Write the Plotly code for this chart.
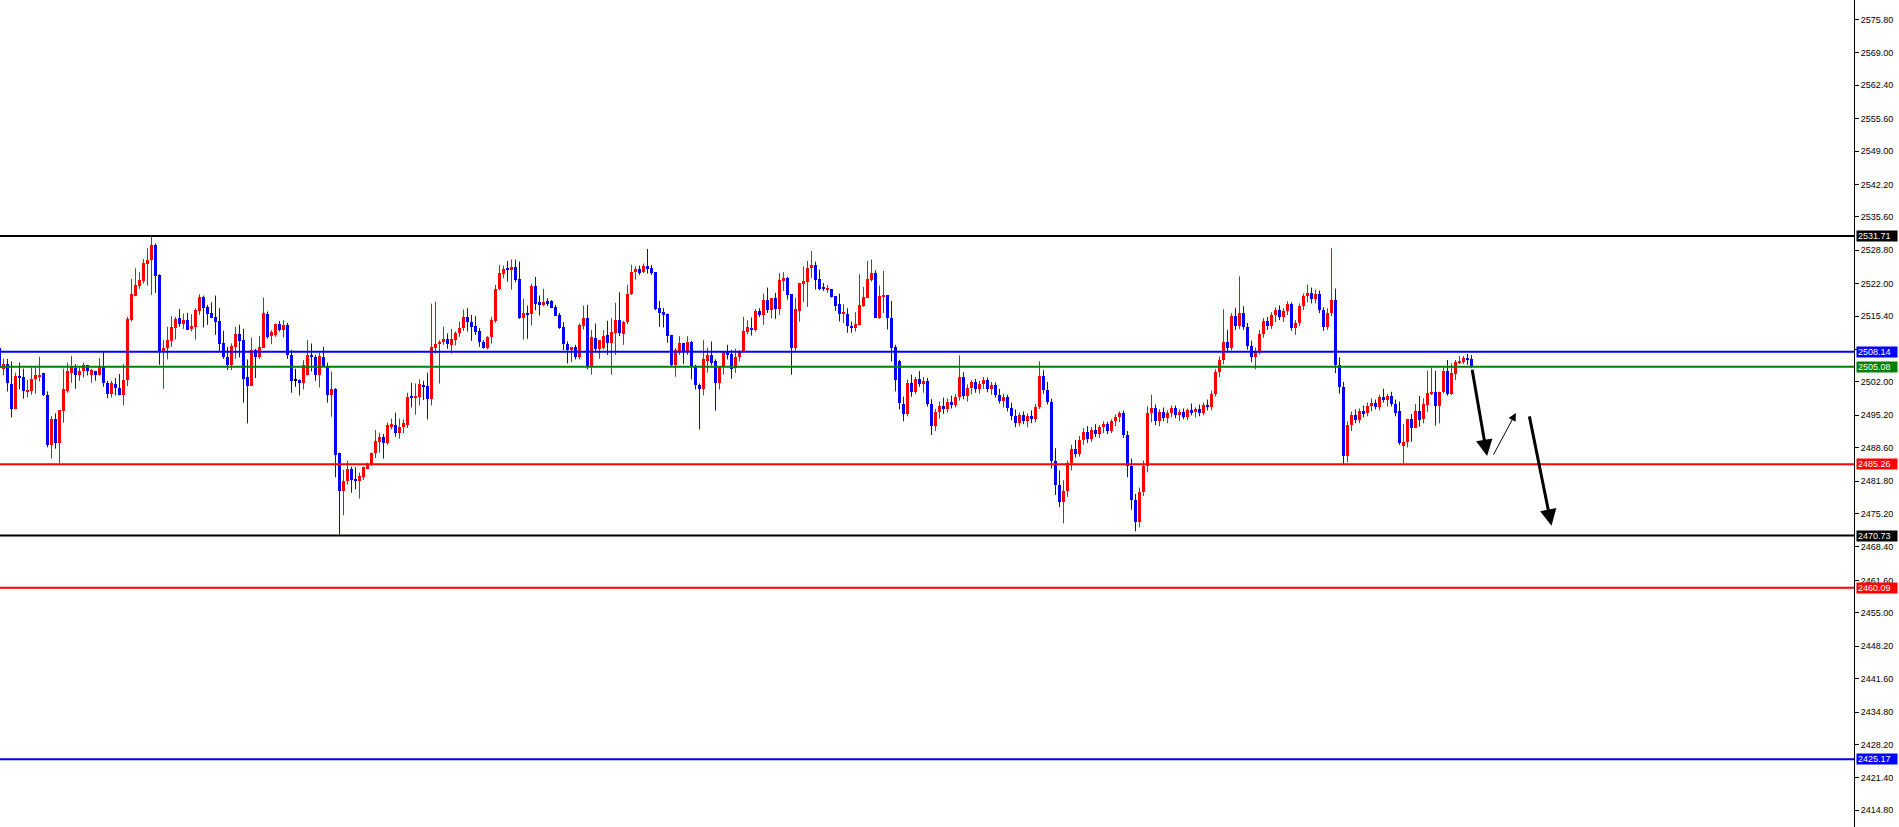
import plotly.graph_objects as go

# ---------------- data ----------------
first_bar = -1  # index of first (partially visible) candle

opens = [2509.0, 2504.68, 2505.63, 2501.56, 2496.41, 2503.19, 2503.06, 2500.07, 2500.07, 2502.51,
         2503.06, 2503.73, 2499.39, 2489.10, 2494.52, 2489.51, 2496.14, 2500.21, 2503.87, 2504.81,
         2503.46, 2504.14, 2505.49, 2503.33, 2504.27, 2503.46, 2504.95, 2501.83, 2499.53, 2501.56,
         2500.75, 2499.26, 2502.38, 2514.71, 2519.58, 2521.62, 2522.57, 2526.09, 2526.76, 2529.88,
         2523.78, 2508.20, 2509.01, 2510.37, 2513.08, 2514.98, 2513.76, 2514.57, 2512.81, 2513.21,
         2516.47, 2519.31, 2517.28, 2516.06, 2515.25, 2514.43, 2509.83, 2507.12, 2505.49, 2509.15,
         2511.86, 2510.64, 2503.06, 2501.15, 2508.47, 2506.98, 2509.01, 2515.93, 2511.32, 2511.59,
         2513.89, 2512.67, 2513.62, 2507.52, 2502.24, 2502.38, 2501.70, 2503.33, 2507.52, 2507.12,
         2503.46, 2507.12, 2504.95, 2499.39, 2500.61, 2487.61, 2479.88, 2481.78, 2484.35, 2482.32,
         2481.91, 2482.73, 2484.22, 2485.03, 2487.47, 2489.77, 2490.86, 2489.64, 2492.89, 2493.30,
         2491.67, 2492.76, 2493.30, 2498.99, 2498.85, 2498.85, 2501.29, 2501.15, 2498.45, 2509.01,
         2509.69, 2510.10, 2510.78, 2509.56, 2510.64, 2511.99, 2512.94, 2515.25, 2514.16, 2513.35,
         2512.40, 2510.10, 2508.88, 2511.05, 2514.43, 2520.94, 2524.06, 2525.01, 2524.87, 2525.41,
         2522.97, 2515.11, 2516.06, 2515.79, 2521.62, 2518.23, 2517.69, 2518.50, 2518.50, 2517.28,
         2515.65, 2513.21, 2509.69, 2508.47, 2509.15, 2507.12, 2513.49, 2514.98, 2505.22, 2510.91,
         2508.75, 2508.88, 2511.59, 2509.83, 2511.99, 2514.57, 2511.86, 2514.30, 2519.86, 2524.33,
         2525.01, 2524.46, 2525.55, 2525.14, 2524.33, 2517.01, 2516.20, 2515.93, 2511.59, 2505.49,
         2508.34, 2509.96, 2508.34, 2510.23, 2505.08, 2501.42, 2500.48, 2506.30, 2507.52, 2506.17,
         2501.70, 2504.95, 2508.07, 2507.66, 2504.81, 2506.98, 2508.07, 2512.27, 2512.94, 2512.67,
         2516.47, 2515.65, 2518.64, 2516.74, 2519.04, 2516.87, 2522.57, 2523.24, 2519.86, 2509.01,
         2516.47, 2522.02, 2522.43, 2525.14, 2525.82, 2522.97, 2521.21, 2520.87, 2520.94, 2519.45,
         2517.82, 2515.99, 2515.93, 2513.49, 2513.08, 2513.62, 2517.42, 2519.18, 2522.84, 2524.19,
         2515.11, 2519.45, 2519.72, 2515.11, 2509.15,
         2506.17, 2497.60, 2495.50, 2501.80, 2500.00, 2502.60, 2501.50, 2502.20, 2497.60, 2493.00,
         2495.80, 2497.20, 2496.40, 2498.00, 2497.30, 2499.00, 2503.00, 2499.20, 2500.80, 2501.90,
         2500.50, 2501.60, 2502.40, 2500.60, 2501.40, 2499.40, 2498.20, 2499.00, 2496.60, 2495.00,
         2493.60, 2495.20, 2494.00, 2495.00, 2494.40, 2497.00, 2503.20, 2500.40, 2498.00, 2486.00,
         2481.00, 2477.60, 2479.80, 2485.40, 2488.40, 2487.40, 2490.20, 2491.80, 2490.40, 2492.20,
         2491.40, 2492.80, 2493.40, 2492.00, 2494.00, 2494.80, 2495.60, 2491.20, 2484.80, 2478.00,
         2473.40, 2479.60, 2484.80, 2495.60, 2496.60, 2494.00, 2495.80, 2494.60, 2495.60, 2496.60,
         2495.20, 2495.80, 2494.80, 2496.20, 2495.80, 2496.40, 2495.60, 2497.40, 2496.80, 2499.60,
         2504.00, 2506.40, 2510.20, 2509.00, 2515.40, 2513.40, 2516.00, 2513.20, 2509.40, 2507.00,
         2508.20, 2511.80, 2514.40, 2513.40, 2515.60, 2516.60, 2515.20, 2516.40, 2517.80, 2513.00,
         2514.00, 2517.40, 2519.40, 2520.20, 2518.80, 2520.00, 2516.60, 2513.20, 2516.00, 2518.60,
         2505.40, 2501.00, 2487.00, 2493.20, 2495.20, 2494.20, 2496.00, 2495.60, 2497.20, 2497.80,
         2496.80, 2499.00, 2498.40, 2499.20, 2497.60, 2496.00, 2489.02, 2489.70, 2494.38, 2492.69,
         2496.08, 2494.38, 2497.30, 2499.68, 2500.02, 2497.10, 2499.88, 2504.22, 2499.54, 2503.61,
         2505.92, 2506.12, 2506.87, 2506.73]

highs = [2509.0, 2506.71, 2506.71, 2506.17, 2503.87, 2505.90, 2504.68, 2502.38, 2504.95, 2504.95,
         2507.12, 2503.87, 2500.07, 2495.06, 2495.60, 2496.28, 2504.68, 2505.90, 2507.26, 2505.63,
         2504.95, 2505.90, 2505.49, 2504.68, 2504.27, 2506.85, 2508.07, 2502.24, 2502.24, 2502.78,
         2503.60, 2505.63, 2515.25, 2522.97, 2525.14, 2524.33, 2527.03, 2529.20, 2531.57, 2530.22,
         2523.92, 2510.50, 2513.21, 2515.38, 2515.25, 2516.87, 2515.93, 2516.06, 2515.79, 2517.00,
         2519.85, 2519.58, 2517.69, 2518.23, 2519.58, 2517.00, 2512.40, 2509.15, 2509.83, 2513.21,
         2513.62, 2512.81, 2506.58, 2511.05, 2508.75, 2511.32, 2519.18, 2516.33, 2512.54, 2513.89,
         2514.43, 2514.57, 2514.03, 2508.47, 2504.68, 2502.51, 2506.44, 2510.50, 2509.83, 2507.52,
         2507.93, 2509.15, 2505.90, 2504.14, 2500.75, 2487.61, 2484.08, 2485.98, 2484.76, 2484.62,
         2483.54, 2484.76, 2485.57, 2487.61, 2492.21, 2491.67, 2491.40, 2493.70, 2494.52, 2495.74,
         2494.52, 2494.38, 2499.80, 2501.83, 2501.70, 2502.51, 2502.24, 2503.87, 2517.96, 2518.37,
         2510.50, 2513.21, 2511.86, 2512.81, 2512.27, 2514.30, 2516.74, 2517.01, 2515.65, 2515.38,
         2512.94, 2510.50, 2511.32, 2515.25, 2521.75, 2525.82, 2525.68, 2526.63, 2526.90, 2526.90,
         2526.50, 2518.91, 2517.55, 2522.02, 2523.38, 2519.58, 2520.94, 2519.04, 2518.64, 2517.69,
         2516.06, 2514.16, 2510.23, 2509.15, 2509.56, 2513.89, 2517.55, 2517.69, 2512.54, 2513.89,
         2510.50, 2512.54, 2514.43, 2514.98, 2518.10, 2520.26, 2514.43, 2521.75, 2525.82, 2525.55,
         2525.68, 2526.09, 2529.07, 2525.82, 2524.33, 2518.50, 2517.01, 2515.93, 2511.59, 2508.88,
         2511.32, 2509.96, 2511.32, 2510.37, 2505.49, 2501.70, 2510.50, 2509.01, 2510.23, 2506.58,
         2505.22, 2508.07, 2509.56, 2508.47, 2508.75, 2508.47, 2515.25, 2514.57, 2515.11, 2516.87,
         2517.01, 2519.99, 2521.21, 2519.04, 2520.13, 2524.19, 2524.33, 2523.38, 2519.86, 2519.18,
         2522.16, 2525.55, 2526.63, 2528.66, 2526.50, 2524.87, 2522.16, 2521.75, 2520.94, 2519.45,
         2519.99, 2517.82, 2517.01, 2514.30, 2516.20, 2523.92, 2521.35, 2526.63, 2526.90, 2524.74,
         2521.62, 2524.60, 2519.72, 2518.50, 2509.56,
         2506.50, 2499.00, 2502.50, 2503.50, 2503.00, 2504.20, 2503.00, 2502.80, 2498.50, 2496.50,
         2498.00, 2498.80, 2498.60, 2499.20, 2499.50, 2507.40, 2504.00, 2501.50, 2502.40, 2502.60,
         2502.20, 2503.00, 2502.90, 2502.00, 2501.90, 2500.60, 2499.60, 2499.40, 2497.80, 2496.40,
         2495.80, 2496.00, 2495.60, 2496.20, 2497.50, 2506.20, 2504.40, 2502.00, 2498.60, 2488.50,
         2484.00, 2482.00, 2486.00, 2489.20, 2490.20, 2491.00, 2492.60, 2493.00, 2492.80, 2493.40,
         2493.20, 2494.00, 2493.90, 2494.40, 2495.40, 2496.00, 2496.20, 2492.00, 2486.40, 2479.20,
         2480.50, 2486.00, 2497.00, 2499.40, 2497.40, 2496.40, 2496.80, 2496.20, 2497.20, 2497.20,
         2496.40, 2496.60, 2496.60, 2497.60, 2496.80, 2497.40, 2497.80, 2498.40, 2500.20, 2504.60,
         2507.20, 2516.80, 2512.60, 2516.00, 2517.00, 2523.50, 2517.40, 2514.00, 2510.40, 2509.00,
         2512.60, 2515.00, 2515.20, 2516.20, 2517.20, 2517.60, 2517.00, 2518.40, 2518.20, 2514.60,
         2518.00, 2520.00, 2521.80, 2521.20, 2520.80, 2520.60, 2517.20, 2517.00, 2529.20, 2521.00,
         2507.00, 2502.00, 2494.00, 2496.00, 2496.40, 2496.60, 2497.20, 2497.80, 2498.60, 2498.40,
         2499.40, 2500.60, 2499.60, 2500.00, 2498.40, 2498.00, 2493.43, 2494.38, 2495.47, 2497.50,
         2499.13, 2498.66, 2504.29, 2504.97, 2504.29, 2500.02, 2504.97, 2506.46, 2505.78, 2506.46,
         2507.28, 2507.28, 2507.68, 2507.48]

lows = [2504.8, 2503.32, 2500.07, 2494.79, 2496.41, 2500.48, 2498.58, 2498.85, 2499.39, 2499.66,
        2502.10, 2499.12, 2488.69, 2486.39, 2488.42, 2485.44, 2493.70, 2499.80, 2501.83, 2500.61,
        2502.24, 2502.92, 2503.33, 2501.83, 2502.24, 2503.33, 2501.02, 2498.68, 2498.85, 2499.26,
        2499.26, 2497.23, 2501.15, 2514.30, 2519.45, 2520.94, 2522.02, 2521.62, 2519.72, 2520.13,
        2505.49, 2500.61, 2506.58, 2509.15, 2510.64, 2513.21, 2512.81, 2512.67, 2512.27, 2510.64,
        2515.65, 2513.08, 2513.62, 2514.98, 2511.59, 2508.34, 2506.71, 2504.41, 2504.41, 2506.71,
        2506.98, 2497.77, 2493.57, 2501.15, 2502.78, 2506.71, 2509.01, 2510.78, 2509.69, 2511.18,
        2512.27, 2511.05, 2506.71, 2499.80, 2501.02, 2499.26, 2500.48, 2503.33, 2504.14, 2502.24,
        2500.88, 2505.22, 2497.77, 2494.92, 2482.59, 2470.94, 2474.87, 2481.10, 2479.47, 2480.15,
        2478.26, 2482.05, 2484.22, 2484.89, 2486.52, 2487.61, 2486.39, 2489.23, 2492.35, 2490.86,
        2490.45, 2491.54, 2492.62, 2496.82, 2495.33, 2497.23, 2498.31, 2494.38, 2497.23, 2507.80,
        2501.70, 2509.56, 2508.75, 2507.80, 2509.42, 2511.18, 2512.40, 2512.27, 2510.37, 2511.59,
        2509.15, 2508.75, 2508.61, 2509.83, 2514.03, 2520.67, 2523.11, 2522.43, 2520.81, 2522.29,
        2514.84, 2510.64, 2510.78, 2513.49, 2516.60, 2515.52, 2517.42, 2517.42, 2517.01, 2515.52,
        2512.81, 2508.47, 2505.76, 2506.03, 2506.58, 2506.58, 2512.67, 2504.54, 2503.46, 2508.20,
        2506.71, 2508.61, 2507.52, 2503.46, 2507.52, 2511.32, 2509.56, 2513.76, 2519.72, 2522.84,
        2523.79, 2524.19, 2524.06, 2523.79, 2516.60, 2513.21, 2513.08, 2509.96, 2505.22, 2503.06,
        2507.52, 2505.63, 2507.52, 2502.51, 2500.48, 2492.30, 2499.26, 2503.87, 2505.36, 2496.14,
        2500.48, 2503.46, 2506.58, 2502.65, 2503.87, 2506.17, 2508.07, 2511.69, 2511.45, 2512.27,
        2515.25, 2513.62, 2516.06, 2514.98, 2514.84, 2515.65, 2520.53, 2518.77, 2503.46, 2508.34,
        2514.30, 2518.23, 2517.28, 2523.11, 2520.81, 2520.67, 2520.53, 2520.13, 2519.18, 2516.47,
        2514.30, 2514.03, 2512.00, 2512.00, 2512.27, 2513.62, 2517.28, 2519.04, 2522.43, 2514.98,
        2514.84, 2516.06, 2512.67, 2506.17, 2500.07,
        2496.40, 2494.00, 2495.00, 2499.00, 2499.50, 2501.00, 2499.80, 2497.00, 2491.20, 2492.00,
        2494.50, 2495.50, 2495.80, 2496.60, 2496.80, 2498.20, 2498.50, 2498.00, 2499.50, 2499.80,
        2499.60, 2500.60, 2499.90, 2499.40, 2498.80, 2497.60, 2496.80, 2496.00, 2494.20, 2492.80,
        2493.00, 2493.40, 2492.80, 2493.60, 2493.80, 2496.50, 2499.60, 2497.40, 2484.40, 2479.00,
        2476.50, 2473.20, 2478.60, 2484.00, 2486.60, 2486.80, 2489.20, 2489.60, 2489.80, 2490.80,
        2490.60, 2491.60, 2491.40, 2491.60, 2493.00, 2493.80, 2490.60, 2482.60, 2476.00, 2471.60,
        2472.40, 2478.80, 2483.60, 2493.80, 2493.20, 2493.00, 2494.00, 2493.60, 2494.80, 2494.60,
        2494.00, 2494.40, 2494.20, 2495.20, 2494.80, 2495.00, 2495.20, 2496.20, 2496.20, 2499.00,
        2503.00, 2505.60, 2508.00, 2508.40, 2512.60, 2512.80, 2512.60, 2508.60, 2506.00, 2504.60,
        2507.60, 2511.00, 2512.60, 2512.80, 2514.20, 2514.60, 2514.20, 2515.60, 2512.40, 2511.60,
        2513.40, 2516.60, 2518.20, 2518.00, 2518.00, 2516.00, 2512.40, 2512.60, 2515.40, 2503.80,
        2499.60, 2485.20, 2485.60, 2492.00, 2493.60, 2493.60, 2494.80, 2495.00, 2496.00, 2496.40,
        2496.20, 2497.80, 2497.00, 2497.00, 2495.00, 2489.20, 2485.43, 2488.68, 2489.84, 2492.69,
        2492.89, 2493.57, 2495.94, 2499.34, 2493.09, 2493.57, 2499.68, 2499.20, 2499.34, 2502.39,
        2505.65, 2505.65, 2505.51, 2504.77]

closes = [2504.8, 2505.63, 2501.70, 2496.41, 2503.19, 2502.78, 2500.07, 2500.21, 2502.65, 2503.33,
          2503.46, 2499.26, 2489.10, 2494.38, 2489.51, 2496.28, 2500.48, 2504.14, 2504.95, 2503.33,
          2504.27, 2505.36, 2504.14, 2504.41, 2503.46, 2504.95, 2501.83, 2499.53, 2501.83, 2500.75,
          2499.39, 2502.38, 2514.84, 2519.86, 2521.75, 2522.70, 2526.22, 2526.90, 2529.88, 2523.65,
          2508.20, 2508.88, 2510.50, 2513.21, 2514.84, 2513.89, 2514.57, 2512.67, 2513.35, 2516.60,
          2519.31, 2517.15, 2515.93, 2515.11, 2514.30, 2509.69, 2507.12, 2505.49, 2509.29, 2511.86,
          2510.37, 2502.65, 2501.15, 2508.47, 2506.98, 2509.15, 2516.06, 2511.18, 2512.27, 2513.89,
          2512.67, 2513.62, 2507.52, 2502.10, 2502.24, 2501.70, 2505.49, 2507.52, 2506.98, 2503.46,
          2507.25, 2505.22, 2499.39, 2500.61, 2487.20, 2479.88, 2481.91, 2484.35, 2482.05, 2481.91,
          2482.86, 2484.76, 2485.30, 2487.61, 2490.04, 2490.86, 2489.64, 2493.16, 2493.43, 2491.67,
          2492.89, 2493.57, 2498.99, 2498.85, 2499.12, 2501.56, 2501.02, 2498.45, 2509.15, 2509.69,
          2510.23, 2510.78, 2509.69, 2510.78, 2511.99, 2512.94, 2515.25, 2514.16, 2513.21, 2512.13,
          2510.10, 2509.01, 2511.18, 2514.57, 2520.94, 2524.19, 2525.01, 2524.87, 2525.41, 2522.84,
          2515.11, 2516.06, 2515.79, 2521.62, 2517.96, 2517.69, 2518.23, 2517.96, 2517.15, 2515.52,
          2513.08, 2509.69, 2508.47, 2509.15, 2507.12, 2513.62, 2514.98, 2505.22, 2511.18, 2508.75,
          2510.50, 2511.32, 2509.83, 2512.13, 2514.57, 2511.99, 2514.30, 2519.86, 2524.33, 2525.01,
          2524.19, 2525.55, 2525.01, 2524.19, 2516.87, 2516.06, 2515.65, 2511.45, 2505.49, 2508.47,
          2509.96, 2508.34, 2510.10, 2505.08, 2501.29, 2500.48, 2506.71, 2507.52, 2505.90, 2501.70,
          2504.95, 2508.07, 2507.39, 2504.54, 2507.12, 2508.07, 2512.40, 2513.21, 2512.67, 2516.47,
          2515.65, 2518.64, 2516.74, 2519.04, 2516.87, 2522.70, 2523.11, 2519.72, 2509.01, 2516.87,
          2522.16, 2522.57, 2525.14, 2525.82, 2522.84, 2520.94, 2521.08, 2521.00, 2519.31, 2517.55,
          2515.93, 2516.13, 2513.35, 2513.08, 2513.76, 2517.69, 2519.31, 2522.97, 2524.19, 2515.11,
          2519.58, 2519.72, 2515.11, 2509.01, 2502.38,
          2497.63, 2495.50, 2501.80, 2500.00, 2502.60, 2501.50, 2502.20, 2497.60, 2493.00, 2495.80,
          2497.20, 2496.40, 2498.00, 2497.30, 2499.00, 2503.00, 2499.20, 2500.80, 2501.90, 2500.50,
          2501.60, 2502.40, 2500.60, 2501.40, 2499.40, 2498.20, 2499.00, 2496.60, 2495.00, 2493.60,
          2495.20, 2494.00, 2495.00, 2494.40, 2497.00, 2503.20, 2500.40, 2498.00, 2486.00, 2481.00,
          2477.60, 2479.80, 2485.40, 2488.40, 2487.40, 2490.20, 2491.80, 2490.40, 2492.20, 2491.40,
          2492.80, 2493.40, 2492.00, 2494.00, 2494.80, 2495.60, 2491.20, 2484.80, 2478.00, 2473.40,
          2479.60, 2484.80, 2495.60, 2496.60, 2494.00, 2495.80, 2494.60, 2495.60, 2496.60, 2495.20,
          2495.80, 2494.80, 2496.20, 2495.80, 2496.40, 2495.60, 2497.40, 2496.80, 2499.60, 2504.00,
          2506.40, 2510.20, 2509.00, 2515.40, 2513.40, 2516.00, 2513.20, 2509.40, 2507.00, 2508.20,
          2511.80, 2514.40, 2513.40, 2515.60, 2516.60, 2515.20, 2516.40, 2517.80, 2513.00, 2514.00,
          2517.40, 2519.40, 2520.20, 2518.80, 2520.00, 2516.60, 2513.20, 2516.00, 2518.60, 2505.40,
          2501.00, 2487.00, 2493.20, 2495.20, 2494.20, 2496.00, 2495.60, 2497.20, 2497.80, 2496.80,
          2499.00, 2498.40, 2499.20, 2497.60, 2495.60, 2489.60, 2489.70, 2494.38, 2492.69, 2496.08,
          2494.25, 2497.57, 2499.68, 2500.02, 2497.10, 2500.02, 2504.22, 2499.54, 2503.75, 2505.99,
          2506.33, 2506.94, 2506.46, 2505.11]

# horizontal price levels and their label colours
level_prices = [2531.71, 2508.14, 2505.08, 2485.26, 2470.73, 2460.09, 2425.17]
level_colors = ["#000000", "#0000FF", "#008000", "#FF0000", "#000000", "#FF0000", "#0000FF"]

# right price-scale tick labels
tick_vals = [2575.80, 2569.00, 2562.40, 2555.60, 2549.00, 2542.20, 2535.60, 2528.80, 2522.00,
             2515.40, 2508.60, 2502.00, 2495.20, 2488.60, 2481.80, 2475.20, 2468.40, 2461.60,
             2455.00, 2448.20, 2441.60, 2434.80, 2428.20, 2421.40, 2414.80]
tick_text = ["%.2f" % v for v in tick_vals]

# hand-drawn forecast arrows: (tail bar, tail price, head bar, head price, thick?)
arrows = [
    (367.1, 2504.8, 370.9, 2486.9, True),
    (372.3, 2486.9, 378.1, 2495.7, False),
    (381.4, 2495.3, 387.0, 2472.7, True),
]

assert len(opens) == len(highs) == len(lows) == len(closes)

# ---------------- figure ----------------
UP, DOWN, FLAT = "#FF0000", "#0000FF", "#000000"
xs = [first_bar + i for i in range(len(opens))]
colors = []
for o, c in zip(opens, closes):
    colors.append(UP if c > o else (DOWN if c < o else FLAT))

fig = go.Figure()

# wicks
for col in (UP, DOWN, FLAT):
    wx, wy = [], []
    for x, h, l, c in zip(xs, highs, lows, colors):
        if c == col:
            wx += [x, x, None]
            wy += [l, h, None]
    fig.add_trace(go.Scatter(x=wx, y=wy, mode="lines", line=dict(color=col, width=1),
                             hoverinfo="skip", showlegend=False))

# bodies
base = [min(o, c) for o, c in zip(opens, closes)]
height = [max(abs(c - o), 0.2) for o, c in zip(opens, closes)]
fig.add_trace(go.Bar(x=xs, y=height, base=base, width=0.75,
                     marker=dict(color=colors, line=dict(width=0)),
                     showlegend=False, hoverinfo="skip"))

# horizontal levels
for p, col in zip(level_prices, level_colors):
    fig.add_hline(y=p, line=dict(color=col, width=2))

annotations = []
for p, col in zip(level_prices, level_colors):
    annotations.append(dict(x=1, xref="paper", y=p, yref="y", xanchor="left", yanchor="middle",
                            xshift=2, text="%.2f" % p, showarrow=False,
                            font=dict(family="Liberation Sans", size=9, color="#FFFFFF"),
                            bgcolor=col, borderpad=1, width=38, height=8, align="left"))

for tx, ty, hx, hy, thick in arrows:
    annotations.append(dict(x=hx, y=hy, ax=tx, ay=ty, xref="x", yref="y", axref="x", ayref="y",
                            text="", showarrow=True, arrowcolor="#000000",
                            arrowhead=2, arrowsize=1.1 if thick else 1.6,
                            arrowwidth=3 if thick else 1, standoff=0, startstandoff=0))

fig.update_layout(
    width=1899, height=827,
    margin=dict(l=0, r=45, t=0, b=0),
    paper_bgcolor="#FFFFFF", plot_bgcolor="#FFFFFF",
    bargap=0, showlegend=False,
    annotations=annotations,
    xaxis=dict(range=[-0.875, 462.625], visible=False, fixedrange=True),
    yaxis=dict(range=[2411.39, 2579.76], side="right", showgrid=False, zeroline=False,
               showline=True, linecolor="#000000", linewidth=1,
               ticks="outside", ticklen=4, tickcolor="#000000", tickwidth=1,
               tickvals=tick_vals, ticktext=tick_text,
               tickfont=dict(family="Liberation Sans", size=9, color="#000000"),
               fixedrange=True),
)

fig.write_html("out.html", config={"displayModeBar": False},
               post_script="document.body.style.margin='0px';document.body.style.overflow='hidden';")
